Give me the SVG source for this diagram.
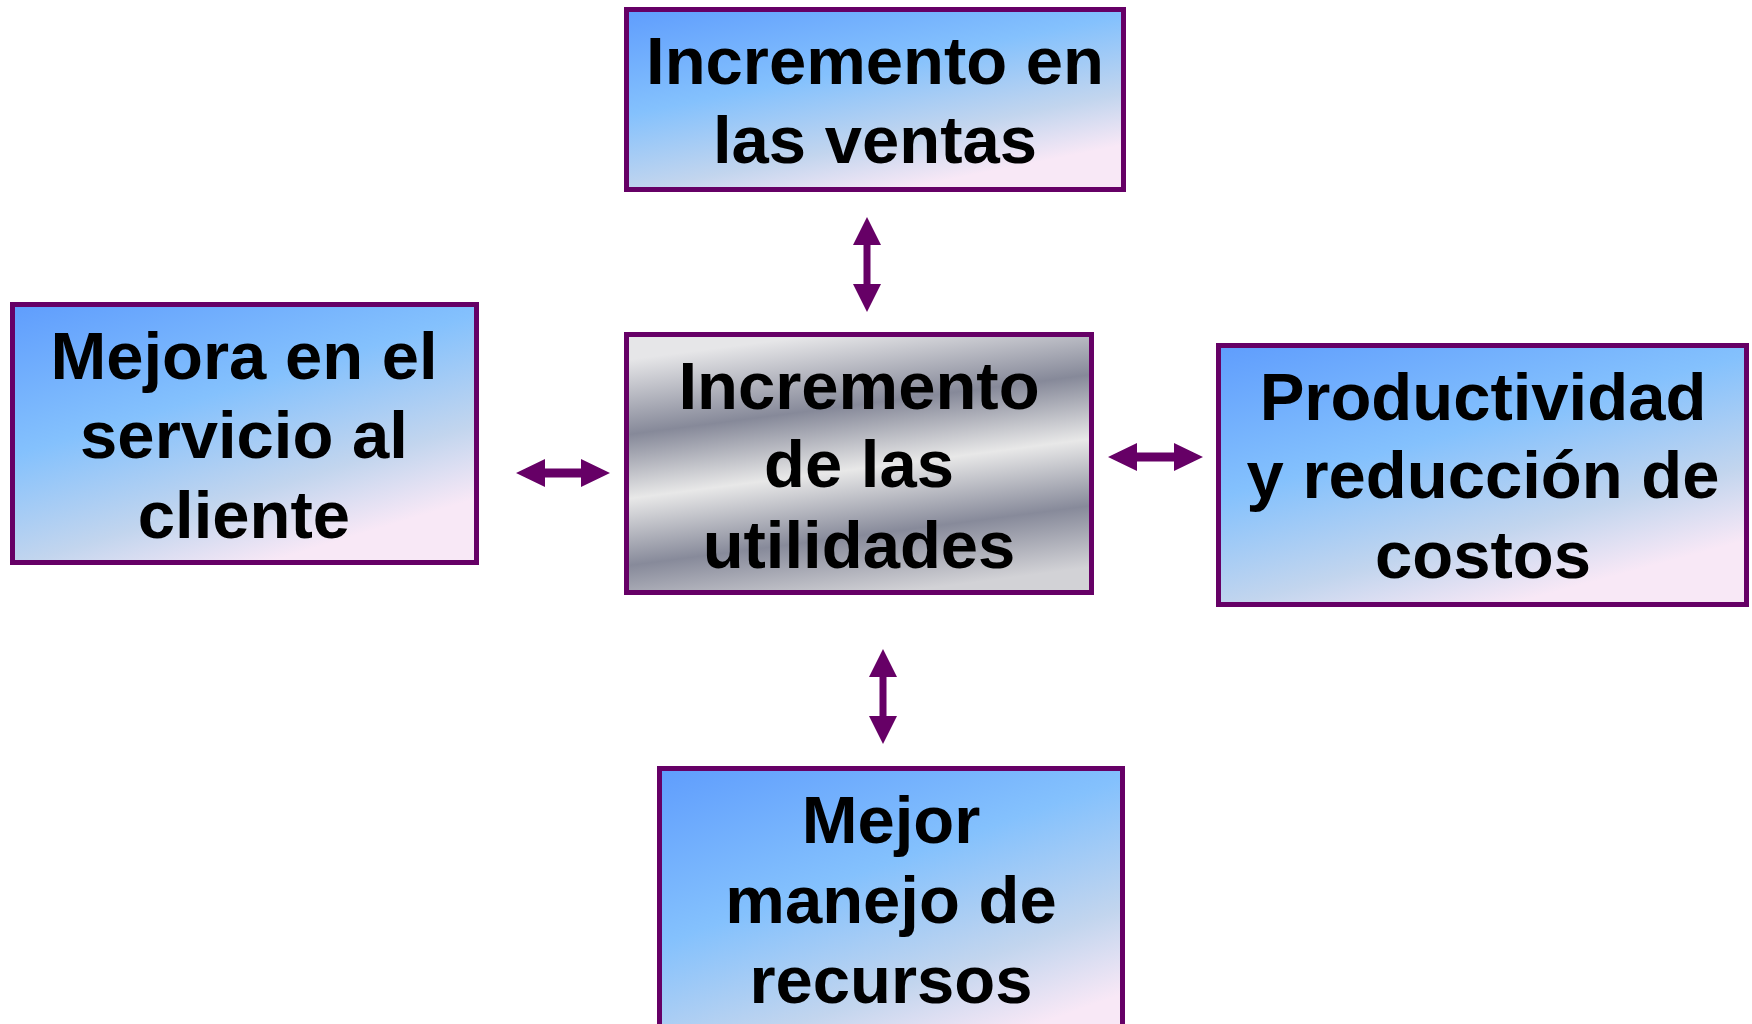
<svg xmlns="http://www.w3.org/2000/svg" width="1752" height="1024" viewBox="0 0 1752 1024">
<defs>
<linearGradient id="blue" x1="0" y1="0" x2="0.55" y2="1">
<stop offset="0" stop-color="#5f9dfd"/>
<stop offset="0.45" stop-color="#84c1fd"/>
<stop offset="0.78" stop-color="#c2d5ee"/>
<stop offset="1" stop-color="#f8e8f6"/>
</linearGradient>
<linearGradient id="chrome" gradientUnits="userSpaceOnUse" x1="842" y1="332" x2="876" y2="595">
<stop offset="0" stop-color="#e6e6e8"/>
<stop offset="0.28" stop-color="#868999"/>
<stop offset="0.52" stop-color="#e8e8e8"/>
<stop offset="0.77" stop-color="#878a9a"/>
<stop offset="1" stop-color="#d2d2d6"/>
</linearGradient>
<style>
.box{stroke:#660066;stroke-width:5}
.t{font-family:"Liberation Sans",Arial,sans-serif;font-weight:bold;font-size:67px;fill:#000;text-anchor:middle}
.arr{fill:#660066}
</style>
</defs>
<rect width="1752" height="1024" fill="#fff"/>
<g id="connectors">
<polygon class="arr" points="867,217 881,245 870.5,245 870.5,284 881,284 867,312 853,284 863.5,284 863.5,245 853,245"/>
<polygon class="arr" points="883,649 897,677 886.5,677 886.5,716 897,716 883,744 869,716 879.5,716 879.5,677 869,677"/>
<polygon class="arr" points="516,473 545,459 545,468.5 581,468.5 581,459 610,473 581,487 581,477.5 545,477.5 545,487"/>
<polygon class="arr" points="1108,457 1137,443 1137,452.5 1174,452.5 1174,443 1203,457 1174,471 1174,461.5 1137,461.5 1137,471"/>
</g>
<g id="node-ventas">
<rect class="box" x="626.5" y="9.5" width="497" height="180" fill="url(#blue)"/>
<text class="t" x="875" y="84">Incremento en</text>
<text class="t" x="875" y="163">las ventas</text>
</g>
<g id="node-servicio">
<rect class="box" x="12.5" y="304.5" width="464" height="258" fill="url(#blue)"/>
<text class="t" x="244" y="379">Mejora en el</text>
<text class="t" x="244" y="458">servicio al</text>
<text class="t" x="244" y="538">cliente</text>
</g>
<g id="node-utilidades">
<rect class="box" x="626.5" y="334.5" width="465" height="258" fill="url(#chrome)"/>
<text class="t" x="859" y="409">Incremento</text>
<text class="t" x="859" y="487">de las</text>
<text class="t" x="859" y="568">utilidades</text>
</g>
<g id="node-productividad">
<rect class="box" x="1218.5" y="345.5" width="528" height="259" fill="url(#blue)"/>
<text class="t" x="1483" y="420">Productividad</text>
<text class="t" x="1483" y="498">y reducción de</text>
<text class="t" x="1483" y="578">costos</text>
</g>
<g id="node-recursos">
<rect class="box" x="659.5" y="768.5" width="463" height="300" fill="url(#blue)"/>
<text class="t" x="891" y="843">Mejor</text>
<text class="t" x="891" y="923">manejo de</text>
<text class="t" x="891" y="1003">recursos</text>
</g>
</svg>
